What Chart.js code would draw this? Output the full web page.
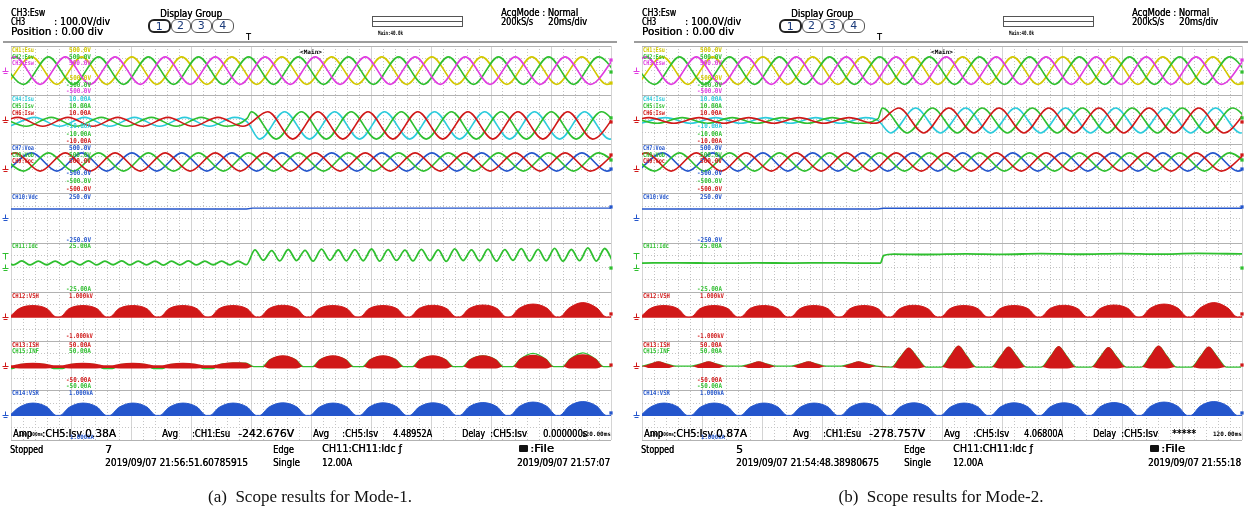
<!DOCTYPE html>
<html>
<head>
<meta charset="utf-8">
<title>Scope results</title>
<script src="https://cdn.jsdelivr.net/npm/chart.js@4.4.1/dist/chart.umd.min.js"></script>
<style>
  html, body { margin: 0; padding: 0; background: #fff; }
  body { width: 1253px; height: 514px; position: relative; overflow: hidden; }
  .panel { position: absolute; top: 0; width: 622px; height: 514px; }
  .panel canvas { position: absolute; left: 0; top: 0; }
  .txt { position: absolute; white-space: pre; line-height: 1; transform-origin: 0 50%; color: #000;
         font-family: 'DejaVu Sans', sans-serif; text-shadow: 0.35px 0 0 currentColor; }
  .tiny { font-family: 'DejaVu Sans Mono', monospace; font-weight: bold; text-shadow: none; }
  .grp { position: absolute; box-sizing: border-box; border: 1px solid #555; border-radius: 6px;
         font: 11px 'DejaVu Sans', sans-serif; color: #1b3b7b; text-align: center; line-height: 12px; background: #fff; }
  .sep { position: absolute; left: 3px; top: 41px; width: 614px; height: 2px; background: #9c9c9c; }
  .zoombox { position: absolute; left: 372px; top: 16px; width: 91px; height: 11px; box-sizing: border-box;
             border: 1px solid #555; }
  .zoombox div { position: absolute; left: 0; right: 0; top: 4px; height: 1px; background: #555; }
  .printer { position: absolute; width: 9px; height: 7px; background: #111; border-radius: 1px; }
  .caption { position: absolute; top: 487px; width: 400px; text-align: center;
             font: 17px 'Liberation Serif', 'Times New Roman', serif; color: #111; }
</style>
</head>
<body>
<div id="panelA" class="panel" style="left:0"></div>
<div id="panelB" class="panel" style="left:631px"></div>
<div class="caption" style="left:110px">(a)&nbsp; Scope results for Mode-1.</div>
<div class="caption" style="left:741px">(b)&nbsp; Scope results for Mode-2.</div>
<script>
// ---- trace colours
const YEL = '#d2c800', GRN = '#2fbf2f', MAG = '#e03ce0', CYN = '#2ccbdc', RED = '#d01818', BLU = '#2456cc';

// ---- vertical layout: 8 lanes, top to bottom, each spans +/- full scale
const laneScale = [500, 10, 500, 250, 25, 1000, 50, 1000];
function lane(i, v) { return 32 - 4 * i - 2 + 2 * v / laneScale[i]; }

// ---- extremum times (ms) of the three phase voltages
const tU = [-1.4, 6.9, 15.3, 23.6, 31.9, 40.3, 48.6, 56.9, 65.3, 73.6, 81.9, 90.3, 98.6, 106.9, 115.3, 123.6, 131.9, 140.3, 148.6, 156.9, 165.3, 173.6, 181.9, 190.3, 198.6, 206.9];
const tV = [-4.2, 4.2, 12.5, 20.8, 29.2, 37.5, 45.8, 54.2, 62.5, 70.8, 79.2, 87.5, 95.8, 104.2, 112.5, 120.8, 129.2, 137.5, 145.8, 154.2, 162.5, 170.8, 179.2, 187.5, 195.8, 204.2];
const tW = [-6.9, 1.4, 9.7, 18.1, 26.4, 34.7, 43.1, 51.4, 59.7, 68.1, 76.4, 84.7, 93.1, 101.4, 109.7, 118.1, 126.4, 134.7, 143.1, 151.4, 159.7, 168.1, 176.4, 184.7, 193.1, 201.4];

// CH1-CH3 source voltages (V)
const esu = [-280, 280, -280, 280, -280, 280, -280, 280, -280, 280, -280, 280, -280, 280, -280, 280, -280, 280, -280, 280, -280, 280, -280, 280, -280, 280];
const esv = [280, -280, 280, -280, 280, -280, 280, -280, 280, -280, 280, -280, 280, -280, 280, -280, 280, -280, 280, -280, 280, -280, 280, -280, 280, -280];
const esw = [-280, 280, -280, 280, -280, 280, -280, 280, -280, 280, -280, 280, -280, 280, -280, 280, -280, 280, -280, 280, -280, 280, -280, 280, -280, 280];

// CH7-CH9 output voltages (V)
const voa = [-40, 330, -40, 330, -40, 330, -40, 330, -40, 330, -40, 330, -40, 330, -40, 330, -40, 330, -40, 330, -40, 330, -40, 330, -40, 330];
const vob = [330, -40, 330, -40, 330, -40, 330, -40, 330, -40, 330, -40, 330, -40, 330, -40, 330, -40, 330, -40, 330, -40, 330, -40, 330, -40];
const voc = [-40, 330, -40, 330, -40, 330, -40, 330, -40, 330, -40, 330, -40, 330, -40, 330, -40, 330, -40, 330, -40, 330, -40, 330, -40, 330];

// CH4-CH6 line currents: extremum times (ms), mode change near 78.7 ms
const tIsu = [-0.5, 7.9, 16.2, 24.5, 32.9, 41.2, 49.5, 57.9, 66.2, 74.5, 78.7, 82.9, 91.2, 99.5, 107.9, 116.2, 124.5, 132.9, 141.2, 149.5, 157.9, 166.2, 174.5, 182.9, 191.2, 199.5, 207.9];
const tIsv = [-3.2, 5.1, 13.4, 21.8, 30.1, 38.4, 46.8, 55.1, 63.4, 71.8, 78.7, 80.1, 88.4, 96.8, 105.1, 113.4, 121.8, 130.1, 138.4, 146.8, 155.1, 163.4, 171.8, 180.1, 188.4, 196.8, 205.1];
const tIsw = [-6.0, 2.3, 10.6, 19.0, 27.3, 35.6, 43.9, 52.3, 60.6, 69.0, 77.3, 78.7, 85.6, 93.9, 102.3, 110.6, 119.0, 127.3, 135.6, 143.9, 152.3, 160.6, 169.0, 177.3, 185.6, 193.9, 202.3];
// Mode-1 currents (A)
const isuA = [-2.6, 1.0, -2.6, 1.0, -2.6, 1.0, -2.6, 1.0, -2.6, 1.0, -0.8, -7.8, 3.3, -7.8, 3.3, -7.8, 3.3, -7.8, 3.3, -7.8, 3.3, -7.8, 3.3, -7.8, 3.3, -7.8, 3.3];
const isvA = [1.0, -2.6, 1.0, -2.6, 1.0, -2.6, 1.0, -2.6, 1.0, -2.6, 0.6, 3.3, -7.8, 3.3, -7.8, 3.3, -7.8, 3.3, -7.8, 3.3, -7.8, 3.3, -7.8, 3.3, -7.8, 3.3, -7.8];
const iswA = [-2.6, 1.0, -2.6, 1.0, -2.6, 1.0, -2.6, 1.0, -2.6, 1.0, -2.6, -2.2, 3.3, -7.8, 3.3, -7.8, 3.3, -7.8, 3.3, -7.8, 3.3, -7.8, 3.3, -7.8, 3.3, -7.8, 3.3];
// Mode-2 currents (A)
const isuB = [-1.4, 0.9, -1.4, 0.9, -1.4, 0.9, -1.4, 0.9, -1.4, 0.9, -0.3, -5.3, 4.8, -5.3, 4.8, -5.3, 4.8, -5.3, 4.8, -5.3, 4.8, -5.3, 4.8, -5.3, 4.8, -5.3, 4.8];
const isvB = [0.9, -1.4, 0.9, -1.4, 0.9, -1.4, 0.9, -1.4, 0.9, -1.4, 0.5, 4.8, -5.3, 4.8, -5.3, 4.8, -5.3, 4.8, -5.3, 4.8, -5.3, 4.8, -5.3, 4.8, -5.3, 4.8, -5.3];
const iswB = [-1.4, 0.9, -1.4, 0.9, -1.4, 0.9, -1.4, 0.9, -1.4, 0.9, -1.4, -1.2, 4.8, -5.3, 4.8, -5.3, 4.8, -5.3, 4.8, -5.3, 4.8, -5.3, 4.8, -5.3, 4.8, -5.3, 4.8];

// CH10 dc-link voltage (V)
const tVdc = [0, 78.5, 80.5, 200];
const vdcA = [95, 95, 104, 104];
const vdcB = [95, 95, 103, 103];

// CH11 dc current (A)
const tIdcA = [-2.0, 0.8, 3.6, 6.4, 9.1, 11.9, 14.7, 17.5, 20.2, 23.0,
  25.8, 28.6, 31.3, 34.1, 36.9, 39.7, 42.4, 45.2, 48.0, 50.8,
  53.5, 56.3, 59.1, 61.9, 64.6, 67.4, 70.2, 73.0, 75.7, 78.5,
  81.3, 84.1, 86.9, 89.6, 92.4, 95.2, 98.0, 100.7, 103.5, 106.3,
  109.1, 111.8, 114.6, 117.4, 120.2, 122.9, 125.7, 128.5, 131.3, 134.0,
  136.8, 139.6, 142.4, 145.1, 147.9, 150.7, 153.5, 156.2, 159.0, 161.8,
  164.6, 167.3, 170.1, 172.9, 175.7, 178.4, 181.2, 184.0, 186.8, 189.5,
  192.3, 195.1, 197.9, 200.6];
const idcA = [6.6, 2.8, 6.8, 2.7, 6.5, 2.9, 6.7, 2.6, 6.6, 2.8,
  6.9, 2.7, 6.6, 2.9, 6.8, 2.7, 6.6, 2.8, 6.7, 2.6,
  6.5, 2.8, 6.8, 2.7, 6.6, 2.9, 6.7, 2.8, 6.6, 3.0,
  18.0, 7.5, 17.2, 6.8, 18.4, 7.2, 17.6, 6.5, 18.8, 7.4,
  17.9, 6.9, 18.3, 7.0, 18.9, 6.6, 18.2, 7.3, 17.7, 6.8,
  18.6, 7.1, 18.1, 6.4, 19.0, 7.2, 18.0, 6.9, 18.7, 6.6,
  18.3, 7.4, 19.2, 6.8, 18.5, 7.0, 19.6, 6.5, 18.4, 7.1,
  20.0, 6.7, 19.4, 6.2];
const tIdcB = [0, 12, 25, 38, 50, 62, 72, 79.5, 80.5, 84, 95, 108, 120, 133, 146, 160, 172, 185, 200];
const idcB = [4.6, 4.9, 4.5, 4.8, 4.6, 4.9, 4.6, 4.7, 12.2, 13.8, 13.3, 14.0, 13.5, 14.2, 13.6, 14.3, 13.7, 14.4, 13.9];

// CH12 / CH14 converter voltage envelopes: one hump per line cycle
const humpT = [-0.4, 2.6, 7.3, 12.0, 15.1,
  16.3, 19.3, 24.0, 28.7, 31.8,
  32.9, 35.9, 40.6, 45.3, 48.4,
  49.6, 52.6, 57.3, 62.0, 65.1,
  66.3, 69.3, 74.0, 78.7, 81.8,
  82.9, 85.9, 90.6, 95.3, 98.4,
  99.6, 102.6, 107.3, 112.0, 115.1,
  116.3, 119.3, 124.0, 128.7, 131.8,
  132.9, 135.9, 140.6, 145.3, 148.4,
  149.6, 152.6, 157.3, 162.0, 165.1,
  166.3, 169.3, 174.0, 178.7, 181.8,
  182.9, 185.9, 190.6, 195.3, 198.4,
  199.6, 202.6];
const vsh = [0, 330, 460, 330, 0,
  0, 330, 460, 330, 0,
  0, 330, 460, 330, 0,
  0, 330, 460, 330, 0,
  0, 330, 460, 330, 0,
  0, 330, 470, 330, 0,
  0, 330, 460, 330, 0,
  0, 330, 460, 330, 0,
  0, 330, 470, 330, 0,
  0, 330, 480, 340, 0,
  0, 340, 520, 350, 0,
  0, 350, 580, 360, 0,
  0, 330];
const vsr = [0, 320, 500, 340, 0,
  0, 320, 500, 340, 0,
  0, 320, 500, 340, 0,
  0, 320, 500, 340, 0,
  0, 320, 500, 340, 0,
  0, 330, 510, 340, 0,
  0, 320, 500, 340, 0,
  0, 330, 510, 340, 0,
  0, 330, 510, 350, 0,
  0, 340, 520, 350, 0,
  0, 350, 540, 360, 0,
  0, 360, 560, 370, 0,
  0, 320];

// CH13 shunt current envelope (upper / lower) and CH15 filter current, Mode-1 (A)
const ishAT = [-2.0,
  0.5, 3.0, 7.3, 11.6, 14.2,
  17.2, 19.7, 24.0, 28.3, 30.9,
  33.8, 36.3, 40.6, 44.9, 47.5,
  50.5, 53.0, 57.3, 61.6, 64.2,
  67.2, 69.7, 74.0, 78.3, 80.9,
  83.8, 86.3, 90.6, 94.9, 97.5,
  100.5, 103.0, 107.3, 111.6, 114.2,
  117.2, 119.7, 124.0, 128.3, 130.9,
  133.8, 136.3, 140.6, 144.9, 147.5,
  150.5, 153.0, 157.3, 161.6, 164.2,
  167.2, 169.7, 174.0, 178.3, 180.9,
  183.8, 186.3, 190.6, 194.9, 197.5,
  200.5];
const ishA = [2,
  2, 5, 7, 5, 2,
  2, 5, 7, 5, 2,
  2, 5, 7, 5, 2,
  2, 5, 7, 5, 2,
  2, 5, 8, 7, -1,
  -1, 14, 22, 14, -1,
  -1, 14, 22, 14, -1,
  -1, 14, 22, 14, -1,
  -1, 14, 22, 14, -1,
  -1, 14, 22, 14, -1,
  -1, 15, 23, 15, -1,
  -1, 15, 24, 15, -1,
  -1];
const ishLowA = [-4,
  -4, -5, -5, -5, -4,
  -4, -5, -5, -5, -4,
  -4, -5, -5, -5, -4,
  -4, -5, -5, -5, -4,
  -4, -5, -5, -5, -1,
  -1, -5, -5, -5, -1,
  -1, -5, -5, -5, -1,
  -1, -5, -5, -5, -1,
  -1, -5, -5, -5, -1,
  -1, -5, -5, -5, -1,
  -1, -5, -5, -5, -1,
  -1, -5, -5, -5, -1,
  -1];
const infA = [-5,
  -5, 3, 4, 3, -5,
  -5, 3, 4, 3, -5,
  -5, 3, 4, 3, -5,
  -5, 3, 4, 3, -5,
  -5, 3, 6, 6, -1,
  -1, 13, 20, 13, -1,
  -1, 13, 20, 13, -1,
  -1, 13, 20, 13, -1,
  -1, 13, 20, 13, -1,
  -1, 13, 21, 13, -1,
  -1, 14, 26, 14, -1,
  -1, 14, 27, 14, -1,
  -1];

// Mode-2 shunt / filter currents (A)
const ishBT = [-3.0,
  -0.3, 2.7, 5.5, 8.3, 11.4,
  16.4, 19.4, 22.2, 25.0, 28.1,
  33.1, 36.1, 38.9, 41.7, 44.8,
  49.7, 52.7, 55.5, 58.3, 61.4,
  66.4, 69.4, 72.2, 75.0, 78.1,
  83.1, 86.1, 88.9, 91.7, 94.8,
  99.7, 102.7, 105.5, 108.3, 111.4,
  116.4, 119.4, 122.2, 125.0, 128.1,
  133.1, 136.1, 138.9, 141.7, 144.8,
  149.7, 152.7, 155.5, 158.3, 161.4,
  166.4, 169.4, 172.2, 175.0, 178.1,
  183.1, 186.1, 188.9, 191.7, 194.8,
  199.7];
const ishB = [0,
  0, 5, 10, 5, 0,
  0, 5, 10, 5, 0,
  0, 5, 10, 5, 0,
  0, 5, 10, 5, 0,
  0, 5, 10, 5, 0,
  -2, 19, 38, 19, -2,
  -2, 21, 42, 21, -2,
  -2, 20, 40, 20, -2,
  -2, 20, 41, 20, -2,
  -2, 19, 39, 19, -2,
  -2, 21, 42, 21, -2,
  -2, 20, 40, 20, -2,
  -2];
const ishLowB = [0,
  0, -4, -4, -4, 0,
  0, -4, -4, -4, 0,
  0, -4, -4, -4, 0,
  0, -4, -4, -4, 0,
  0, -4, -4, -4, 0,
  -2, -5, -5, -5, -2,
  -2, -5, -5, -5, -2,
  -2, -5, -5, -5, -2,
  -2, -5, -5, -5, -2,
  -2, -5, -5, -5, -2,
  -2, -5, -5, -5, -2,
  -2, -5, -5, -5, -2,
  -2];
const infB = [0,
  0, 4, 8, 4, 0,
  0, 4, 8, 4, 0,
  0, 4, 8, 4, 0,
  0, 4, 8, 4, 0,
  0, 4, 8, 4, 0,
  -2, 18, 36, 18, -2,
  -2, 20, 40, 20, -2,
  -2, 19, 38, 19, -2,
  -2, 19, 39, 19, -2,
  -2, 18, 37, 18, -2,
  -2, 20, 40, 20, -2,
  -2, 19, 38, 19, -2,
  -2];

// level indicators on the right edge: [lane, value, colour]
const endMarks = [[0, 215, MAG], [0, -28, GRN], [0, -252, YEL], [1, 0.8, GRN], [1, -0.85, RED],
  [2, 287, RED], [2, 185, GRN], [2, 2, BLU], [3, 116, BLU], [4, -0.4, GRN], [5, 118, RED], [6, 2.2, RED], [7, 98, BLU]];
// ground symbols on the left edge: [lane, value, colour, kind]
const groundMarks = [[0, 0, MAG], [1, 0, RED], [2, 0, RED], [3, 0, BLU], [4, 12, GRN, 'trig'], [4, 0, GRN],
  [5, 0, RED], [6, 0, RED], [7, 0, BLU]];

// ---- text
const headerTexts = [
  ['CH3:Esw', 11, 12, 34, 11], ['CH3', 11, 21.5, 14, 11], [': 100.0V/div', 54, 21.5, 56, 11],
  ['Position : 0.00 div', 11, 31, 92, 11], ['Display Group', 160, 13.5, 62, 11],
  ['AcqMode : Normal', 501, 12.5, 77, 11], ['200kS/s', 501, 21.5, 32, 11], ['20ms/div', 548, 21.5, 39, 11],
  ['Main:40.0k', 378, 33, 25, 6, null, true], ['<Main>', 300, 51.5, 22, 6, null, true], ['T', 246, 37.5, 0, 8]
];
const laneTexts = [
  ['CH1:Esu', 12, 50, 22, YEL], ['500.0V', 69, 50, 22, YEL], ['CH2:Esv', 12, 57, 22, GRN], ['500.0V', 69, 57, 22, GRN],
  ['CH3:Esw', 12, 63.5, 22, MAG], ['500.0V', 69, 63.5, 22, MAG],
  ['-500.0V', 66, 78, 25, YEL], ['-500.0V', 66, 85, 25, GRN], ['-500.0V', 66, 91, 25, MAG],
  ['CH4:Isu', 12, 99, 22, CYN], ['10.00A', 69, 99, 22, CYN], ['CH5:Isv', 12, 106.5, 22, GRN], ['10.00A', 69, 106.5, 22, GRN],
  ['CH6:Isw', 12, 113.5, 22, RED], ['10.00A', 69, 113.5, 22, RED],
  ['-10.00A', 66, 126, 25, CYN], ['-10.00A', 66, 134, 25, GRN], ['-10.00A', 66, 141.5, 25, RED],
  ['CH7:Voa', 12, 148, 22, BLU], ['500.0V', 69, 148, 22, BLU], ['CH8:Vob', 12, 155, 22, GRN], ['500.0V', 69, 155, 22, GRN],
  ['CH9:Voc', 12, 161.5, 22, RED], ['500.0V', 69, 161.5, 22, RED],
  ['-500.0V', 66, 173, 25, BLU], ['-500.0V', 66, 181, 25, GRN], ['-500.0V', 66, 189, 25, RED],
  ['CH10:Vdc', 12, 197, 26, BLU], ['250.0V', 69, 197, 22, BLU], ['-250.0V', 66, 240, 25, BLU],
  ['CH11:Idc', 12, 246.5, 26, GRN], ['25.00A', 69, 246.5, 22, GRN], ['-25.00A', 66, 289, 25, GRN],
  ['CH12:VSH', 12, 296, 27, RED], ['1.000kV', 69, 296, 24, RED], ['-1.000kV', 66, 336.5, 27, RED],
  ['CH13:ISH', 12, 345, 27, RED], ['50.00A', 69, 345, 22, RED], ['CH15:INF', 12, 351.5, 27, GRN], ['50.00A', 69, 351.5, 22, GRN],
  ['-50.00A', 66, 380, 25, RED], ['-50.00A', 66, 386.5, 25, GRN],
  ['CH14:VSR', 12, 393.5, 27, BLU], ['1.000kA', 69, 393.5, 24, BLU]
];
const footerA = [
  ['Amp', 13, 433, 19, 11], ['100.000ms', 19, 435, 24, 5.5, null, true], [':CH5:Isv', 42, 433, 40, 11],
  ['1.000kA', 70, 437, 24, 6, BLU, true], ['0.38A', 85, 433, 31, 11],
  ['Avg', 162, 433, 16, 11], [':CH1:Esu', 192, 433, 38, 11], ['-242.676V', 238, 433, 56, 11],
  ['Avg', 313, 433, 16, 11], [':CH5:Isv', 342, 433, 36, 11], ['4.48952A', 393, 433, 39, 11],
  ['Delay', 462, 433, 23, 11], [':CH5:Isv', 490, 433, 37, 11], ['0.000000s', 543, 433, 44, 11],
  ['120.00ms', 582, 434, 29, 6, null, true],
  ['Stopped', 10, 449, 33, 11], ['7', 105, 449, 0, 11], ['2019/09/07 21:56:51.60785915', 105, 462, 143, 11],
  ['Edge', 273, 449, 21, 11], ['Single', 273, 462, 27, 11], ['CH11:CH11:Idc \u0192', 322, 448.5, 80, 11],
  ['12.00A', 322, 462, 30, 11], [':File', 530, 448.5, 24, 11], ['2019/09/07 21:57:07', 517, 462, 93, 11]
];
const footerB = [
  ['Amp', 13, 433, 19, 11], ['100.000ms', 19, 435, 24, 5.5, null, true], [':CH5:Isv', 42, 433, 40, 11],
  ['1.000kA', 70, 437, 24, 6, BLU, true], ['0.87A', 85, 433, 31, 11],
  ['Avg', 162, 433, 16, 11], [':CH1:Esu', 192, 433, 38, 11], ['-278.757V', 238, 433, 56, 11],
  ['Avg', 313, 433, 16, 11], [':CH5:Isv', 342, 433, 36, 11], ['4.06800A', 393, 433, 39, 11],
  ['Delay', 462, 433, 23, 11], [':CH5:Isv', 490, 433, 37, 11], ['*****', 541, 433, 24, 11],
  ['120.00ms', 582, 434, 29, 6, null, true],
  ['Stopped', 10, 449, 33, 11], ['5', 105, 449, 0, 11], ['2019/09/07 21:54:48.38980675', 105, 462, 143, 11],
  ['Edge', 273, 449, 21, 11], ['Single', 273, 462, 27, 11], ['CH11:CH11:Idc \u0192', 322, 448.5, 80, 11],
  ['12.00A', 322, 462, 30, 11], [':File', 530, 448.5, 24, 11], ['2019/09/07 21:55:18', 517, 462, 93, 11]
];
const groupBoxes = [['1', 148, 22.5, 2], ['2', 170.5, 20, 1], ['3', 190.5, 21.5, 1], ['4', 212, 21.5, 1]];

function addText(host, item) {
  const [text, x, y, w, size, color, mono] = item;
  const el = document.createElement('div');
  el.className = 'txt' + (mono || size < 7 ? ' tiny' : '');
  el.textContent = text;
  el.style.fontSize = size + 'px';
  el.style.left = x + 'px';
  el.style.top = (y - size * 0.5) + 'px';
  if (color) el.style.color = color;
  host.appendChild(el);
  if (w) {
    const nat = el.getBoundingClientRect().width;
    el.style.transform = 'scaleX(' + (w / nat).toFixed(3) + ')';
  }
}

function decorate(host, footer) {
  headerTexts.forEach(t => addText(host, t));
  laneTexts.forEach(t => addText(host, [t[0], t[1], t[2], t[3], 6.6, t[4], true]));
  footer.forEach(t => addText(host, t));
  groupBoxes.forEach(([n, x, w, bw]) => {
    const b = document.createElement('div');
    b.className = 'grp';
    b.textContent = n;
    Object.assign(b.style, { left: x + 'px', top: '19px', width: w + 'px', height: '14px', borderWidth: bw + 'px', borderColor: bw > 1 ? '#222' : '#555' });
    host.appendChild(b);
  });
  const sep = document.createElement('div'); sep.className = 'sep'; host.appendChild(sep);
  const zb = document.createElement('div'); zb.className = 'zoombox'; zb.appendChild(document.createElement('div')); host.appendChild(zb);
  const pr = document.createElement('div'); pr.className = 'printer';
  Object.assign(pr.style, { left: '519px', top: '445px' }); host.appendChild(pr);
}

// ---- datasets
function pts(i, ts, vs) { return ts.map((t, k) => ({ x: t, y: lane(i, vs[k]) })); }
function wave(i, ts, vs, color, extra) {
  return Object.assign({ data: pts(i, ts, vs), borderColor: color, backgroundColor: color, borderWidth: 1.6,
    pointRadius: 0, cubicInterpolationMode: 'monotone', fill: false, order: 2 }, extra || {});
}
function area(i, ts, vs, color, base) {
  return wave(i, ts, vs, color, { borderWidth: 1, fill: { value: lane(i, base) } });
}
function marker([i, v, color]) {
  return { data: [{ x: 200, y: lane(i, v) }], showLine: false, pointStyle: 'rect', pointRadius: 2.3,
    pointBackgroundColor: color, pointBorderWidth: 0, clip: false, order: 0 };
}

function panelSets(p) {
  return [
    wave(0, tW, esw, MAG), wave(0, tV, esv, GRN), wave(0, tU, esu, YEL),
    wave(1, tIsw, p.isw, RED), wave(1, tIsv, p.isv, GRN), wave(1, tIsu, p.isu, CYN),
    wave(2, tW, voc, RED), wave(2, tV, vob, GRN), wave(2, tU, voa, BLU),
    wave(3, tVdc, p.vdc, BLU, { cubicInterpolationMode: 'default', tension: 0, borderWidth: 1.4 }),
    wave(4, p.idcT, p.idc, GRN, { borderWidth: 1.8 }),
    area(5, humpT, vsh, RED, -40),
    wave(6, p.ishT, p.ish, RED, { borderWidth: 0, backgroundColor: RED, fill: '+1' }),
    wave(6, p.ishT, p.ishLow, RED, { borderWidth: 0 }),
    wave(6, p.ishT, p.inf, GRN, { borderWidth: 1.3, order: 3 }),
    area(7, humpT, vsr, BLU, -30),
    ...endMarks.map(marker)
  ];
}

const groundPlugin = {
  id: 'groundMarks',
  afterDraw(chart, args, opts) {
    const { ctx, chartArea, scales } = chart;
    ctx.save();
    ctx.lineWidth = 1;
    opts.marks.forEach(([i, v, color, kind]) => {
      const x = Math.round(chartArea.left - 6) + 0.5;
      const y = Math.round(scales.y.getPixelForValue(lane(i, v))) + 0.5;
      ctx.strokeStyle = color;
      ctx.beginPath();
      if (kind === 'trig') {
        ctx.moveTo(x - 3, y - 3); ctx.lineTo(x + 3, y - 3);
        ctx.moveTo(x, y - 3); ctx.lineTo(x, y + 3);
      } else {
        ctx.moveTo(x, y - 4); ctx.lineTo(x, y);
        ctx.moveTo(x - 3, y); ctx.lineTo(x + 3, y);
        ctx.moveTo(x - 2, y + 2); ctx.lineTo(x + 2, y + 2);
      }
      ctx.stroke();
    });
    ctx.restore();
  }
};

function axis(step, color, dash, horizontal) {
  return {
    type: 'linear', min: 0, max: horizontal ? 200 : 32,
    position: horizontal ? 'bottom' : 'left',
    ticks: { display: false, stepSize: step },
    grid: { color, drawTicks: false, lineWidth: 1 },
    border: { display: false, dash },
    afterFit: s => { if (horizontal) s.height = 0; else s.width = 0; }
  };
}

function scope(hostId, p, footer) {
  const host = document.getElementById(hostId);
  const cv = document.createElement('canvas');
  cv.width = 622; cv.height = 514;
  host.appendChild(cv);
  new Chart(cv, {
    type: 'line',
    data: { datasets: panelSets(p) },
    options: {
      responsive: false, animation: false, events: [],
      layout: { padding: { left: 11, top: 46, right: 11, bottom: 74 } },
      plugins: { legend: { display: false }, tooltip: { enabled: false }, groundMarks: { marks: groundMarks } },
      scales: {
        x: axis(4, '#c4c4c4', [1, 2], true),
        xMajor: axis(20, '#d4d4d4', [], true),
        y: axis(1, '#c4c4c4', [1, 2], false),
        yLane: axis(4, '#b2b2b2', [], false)
      }
    },
    plugins: [groundPlugin]
  });
  decorate(host, footer);
}

scope('panelA', { isu: isuA, isv: isvA, isw: iswA, vdc: vdcA, idcT: tIdcA, idc: idcA,
  ishT: ishAT, ish: ishA, ishLow: ishLowA, inf: infA }, footerA);
scope('panelB', { isu: isuB, isv: isvB, isw: iswB, vdc: vdcB, idcT: tIdcB, idc: idcB,
  ishT: ishBT, ish: ishB, ishLow: ishLowB, inf: infB }, footerB);
</script>
</body>
</html>
